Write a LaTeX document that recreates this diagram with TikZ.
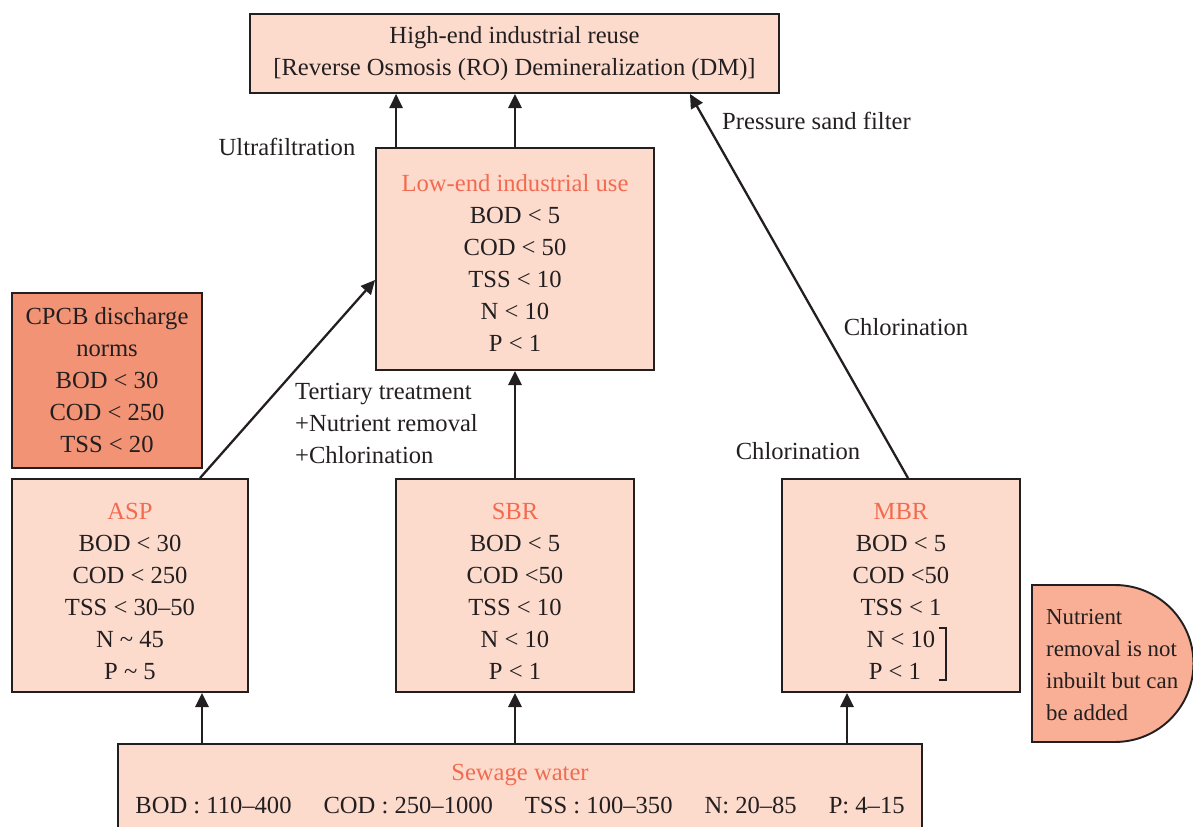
\documentclass[tikz,border=0pt]{standalone}
\usepackage{fontspec}
\setmainfont{Liberation Serif}
\usetikzlibrary{positioning,arrows.meta}

\definecolor{boxfill}{HTML}{FCDBCD}
\definecolor{normfill}{HTML}{F29376}
\definecolor{notefill}{HTML}{F8AF95}
\definecolor{titlered}{HTML}{F26B50}
\definecolor{ink}{HTML}{231F20}
\newcommand{\boxtitle}[2][16pt]{\textcolor{titlered}{\rule{0pt}{#1}#2}}

\begin{document}
\begin{tikzpicture}[x=0.02cm,y=-0.02cm]
\tikzstyle{every node}=[font=\fontsize{14}{18.2}\selectfont,text=ink]
\tikzstyle{stage}=[draw=ink,line width=1.1pt,fill=boxfill,align=center,inner sep=0pt]
\tikzstyle{flow}=[-{Triangle[length=8pt,width=7.5pt]},line width=1.3pt,draw=ink]
\useasboundingbox (0,0) rectangle (1193,826);

% boxes
\node[stage,minimum width=10.58cm,minimum height=1.58cm] (high) at (514.5,53.5)
  {High-end industrial reuse\\{}{[}Reverse Osmosis (RO) Demineralization (DM)]};
\node[stage,minimum width=5.56cm,minimum height=4.44cm] (low) at (515,259)
  {\boxtitle[14pt]{Low-end industrial use}\\BOD < 5\\COD < 50\\TSS < 10\\N < 10\\P < 1};
\node[stage,fill=normfill,minimum width=3.8cm,minimum height=3.5cm] (cpcb) at (107,380.5)
  {CPCB discharge\\norms\\BOD < 30\\COD < 250\\TSS < 20};
\node[stage,minimum width=4.72cm,minimum height=4.26cm] (asp) at (130,585.5)
  {\boxtitle{ASP}\\BOD < 30\\COD < 250\\TSS < 30--50\\N \textasciitilde{} 45\\P \textasciitilde{} 5};
\node[stage,minimum width=4.76cm,minimum height=4.26cm] (sbr) at (515,585.5)
  {\boxtitle{SBR}\\BOD < 5\\COD <50\\TSS < 10\\N < 10\\P < 1};
\node[stage,minimum width=4.76cm,minimum height=4.26cm] (mbr) at (901,585.5)
  {\boxtitle{MBR}\\BOD < 5\\COD <50\\TSS < 1\\N < 10\hspace*{0.5em}\\P < 1\hspace*{0.5em}};
\draw[ink,line width=0.8pt] (939,628) -| (946,680) -- (939,680);
\node[stage,minimum width=16.08cm,minimum height=1.8cm] (sew) at (520,789)
  {\textcolor{titlered}{Sewage water}\\[1pt]BOD : 110--400\hspace{1.3em}COD : 250--1000\hspace{1.3em}TSS : 100--350\hspace{1.3em}N: 20--85\hspace{1.3em}P: 4--15};

% note with round side
\draw[ink,line width=1.1pt,fill=notefill] (1032,585) -- (1115,585)
  arc[start angle=90,end angle=-90,radius=1.57cm] -- (1032,742) -- cycle;
\node[anchor=west,align=left,font=\fontsize{13}{18.2}\selectfont] (note) at (1040,665)
  {Nutrient\\removal is not\\inbuilt but can\\be added};

% labels
\node (uf) at (287,147) {Ultrafiltration};
\node[anchor=west] (psf) at (716,121) {Pressure sand filter};
\node (chl1) at (906,327) {Chlorination};
\node (chl2) at (798,451) {Chlorination};
\node[anchor=west,align=left] (tert) at (289,423)
  {Tertiary treatment\\+Nutrient removal\\+Chlorination};

% arrows
\draw[flow] ([xshift=0.42cm]low.north west) -- ([xshift=0.42cm]low.north west |- high.south);
\draw[flow] (low.north) -- (low.north |- high.south);
\draw[flow] ([xshift=1.4cm]asp.north) -- ([yshift=-0.42cm]low.west);
\draw[flow] (sbr.north) -- (low.south);
\draw[flow] ([xshift=0.14cm]mbr.north) -- ([xshift=3.51cm]high.south);
\draw[flow] ([xshift=1.44cm]asp.south |- sew.north) -- ([xshift=1.44cm]asp.south);
\draw[flow] (sbr.south |- sew.north) -- (sbr.south);
\draw[flow] ([xshift=-1.08cm]mbr.south |- sew.north) -- ([xshift=-1.08cm]mbr.south);

\end{tikzpicture}
\end{document}
